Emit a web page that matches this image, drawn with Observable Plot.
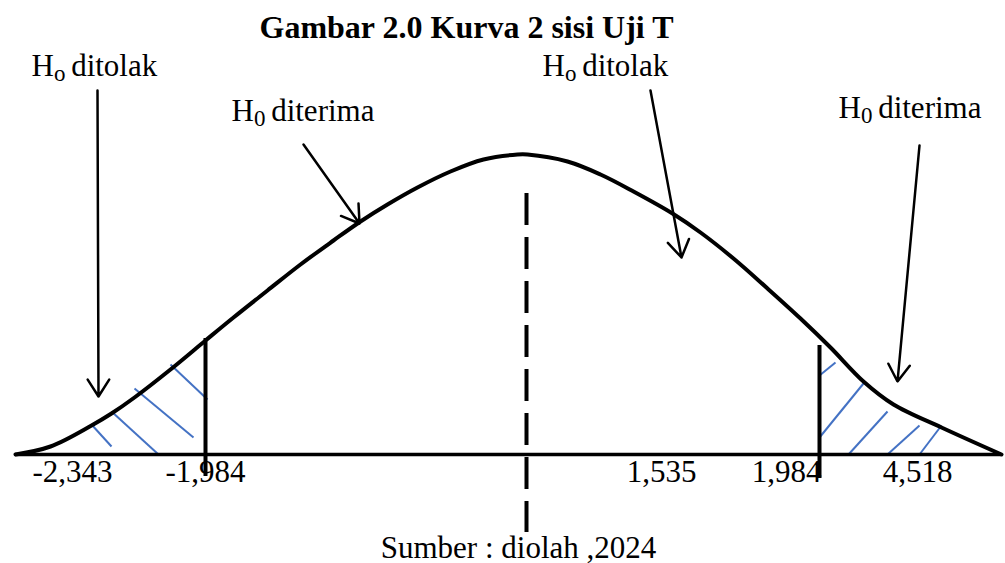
<!DOCTYPE html>
<html><head><meta charset="utf-8">
<script src="https://cdn.jsdelivr.net/npm/d3@7"></script>
<script src="https://cdn.jsdelivr.net/npm/@observablehq/plot@0.6"></script>
<style>body{margin:0;background:#fff}svg{display:block}</style>
</head><body><div id="chart"></div>
<script>
// Schematic t-distribution curve: horizontal position and height above the axis
const curveX = [15, 50, 91, 111, 134, 170, 205, 233, 267, 300, 333, 360, 387, 417, 450, 483, 517, 527, 567, 600, 633, 672, 700, 733, 767, 800, 830, 863, 893, 941, 1001];
const curveH = [0, 8, 29, 41, 57, 85, 114, 137, 164, 190, 214, 233, 250, 267, 283, 295, 300, 300, 293, 280, 263, 241, 222, 196, 166, 136, 107, 73, 50, 27, 0];

// Critical-value tick labels along the axis
const tickLabels = ["-2,343", "-1,984", "1,535", "1,984", "4,518"];
const tickX = [72, 205, 661, 786, 917];

// Critical value boundary lines
const critX = [205, 819];
const critTop = [116, 109];
const critBottom = [-22, -24];

// Hatched rejection regions (blue strokes)
const hatchX1 = [91, 111, 134, 170, 819, 819, 848, 887, 919];
const hatchH1 = [30, 43, 66, 90, 79, 17, 0, 0, 0];
const hatchX2 = [111, 158, 193, 207, 835, 863, 887, 919, 941];
const hatchH2 = [8, 0, 17, 55, 92, 71, 43, 29, 29];

// Annotation labels and their arrows
const labelMain = ["H", "H", "H", "H"];
const labelSub = ["o ", "0 ", "o ", "0 "];
const labelRest = ["ditolak", "diterima", "ditolak", "diterima"];
const labelX = [31, 231, 542, 838];
const labelH = [379, 334, 379, 337];
const arrowX1 = [97, 303, 650, 919];
const arrowH1 = [364, 310, 364, 309];
const arrowX2 = [98, 359, 681, 897];
const arrowH2 = [58, 231, 197, 73];

const titleText = "Gambar 2.0 Kurva 2 sisi Uji T";
const captionText = "Sumber : diolah ,2024";

const curve = curveX.map((x, i) => ({x, h: curveH[i]}));
const ticks = tickLabels.map((t, i) => ({t, x: tickX[i]}));
const crits = critX.map((x, i) => ({x, top: critTop[i], bottom: critBottom[i]}));
const hatches = hatchX1.map((x1, i) => ({x1, h1: hatchH1[i], x2: hatchX2[i], h2: hatchH2[i]}));
const labels = labelMain.map((m, i) => ({text: m + labelSub[i] + labelRest[i], x: labelX[i], h: labelH[i]}));
const arrows = arrowX1.map((x1, i) => ({x1, h1: arrowH1[i], x2: arrowX2[i], h2: arrowH2[i]}));

const serif = "'Liberation Serif', 'Times New Roman', serif";

const chart = Plot.plot({
  width: 1005,
  height: 563,
  margin: 0,
  style: {fontFamily: serif, background: "#fff", color: "#000"},
  x: {domain: [0, 1005], axis: null},
  y: {domain: [-109, 454], range: [563, 0], axis: null},
  marks: [
    Plot.link(hatches, {x1: "x1", y1: "h1", x2: "x2", y2: "h2", stroke: "#4472C4", strokeWidth: 2}),
    Plot.ruleY([0], {x1: 15, x2: 1001, stroke: "#000", strokeWidth: 3.5}),
    Plot.line(curve, {x: "x", y: "h", curve: "catmull-rom", stroke: "#000", strokeWidth: 4}),
    Plot.ruleX(crits, {x: "x", y1: "top", y2: "bottom", stroke: "#000", strokeWidth: 4}),
    Plot.ruleX([526], {y1: 261, y2: -78, stroke: "#000", strokeWidth: 4, strokeDasharray: "32,12"}),
    Plot.arrow(arrows, {x1: "x1", y1: "h1", x2: "x2", y2: "h2", stroke: "#000", strokeWidth: 2.5, headLength: 12, headAngle: 65}),
    Plot.text(ticks, {x: "x", y: -27, text: "t", textAnchor: "middle", lineAnchor: "bottom", fontSize: 31, fill: "#000"}),
    Plot.text(labels, {x: "x", y: "h", text: "text", textAnchor: "start", lineAnchor: "bottom", fontSize: 31, fill: "#000", className: "hlabels"}),
    Plot.text([titleText], {x: 466, y: 417, text: d => d, textAnchor: "middle", lineAnchor: "bottom", fontSize: 32, fontWeight: "bold", fill: "#000"}),
    Plot.text([captionText], {x: 518, y: -103, text: d => d, textAnchor: "middle", lineAnchor: "bottom", fontSize: 31, fill: "#000"})
  ]
});

// Render the subscript part of each H₀/Hₒ label as a real subscript tspan
chart.querySelectorAll(".hlabels text").forEach((el, i) => {
  const ns = "http://www.w3.org/2000/svg";
  el.textContent = "";
  el.appendChild(document.createTextNode(labelMain[i]));
  const sub = document.createElementNS(ns, "tspan");
  sub.setAttribute("dy", "5");
  sub.setAttribute("font-size", "23");
  sub.textContent = labelSub[i];
  el.appendChild(sub);
  const rest = document.createElementNS(ns, "tspan");
  rest.setAttribute("dy", "-5");
  rest.textContent = labelRest[i];
  el.appendChild(rest);
});

document.getElementById("chart").appendChild(chart);
</script>
</body></html>
